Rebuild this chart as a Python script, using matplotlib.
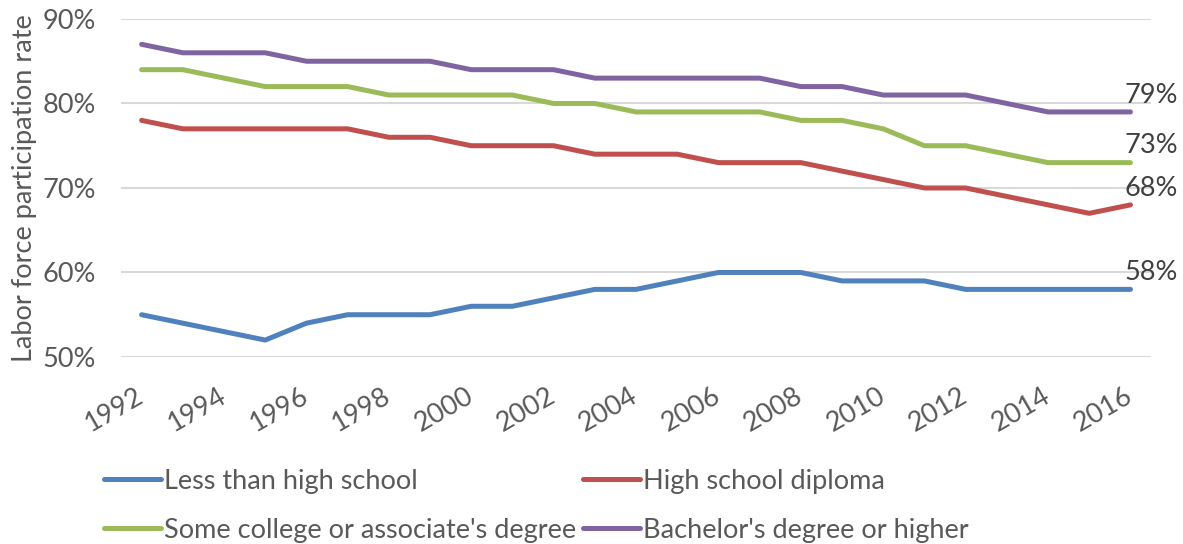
import numpy as np
import matplotlib
matplotlib.use('Agg')
import matplotlib.pyplot as plt
from matplotlib.ticker import PercentFormatter

# Data
years = list(range(1992, 2017))

less_than_hs = [55, 54, 53, 52, 54, 55, 55, 55, 56, 56, 57, 58, 58,
                59, 60, 60, 60, 59, 59, 59, 58, 58, 58, 58, 58]
hs_diploma = [78, 77, 77, 77, 77, 77, 76, 76, 75, 75, 75, 74, 74,
              74, 73, 73, 73, 72, 71, 70, 70, 69, 68, 67, 68]
some_college = [84, 84, 83, 82, 82, 82, 81, 81, 81, 81, 80, 80, 79,
                79, 79, 79, 78, 78, 77, 75, 75, 74, 73, 73, 73]
bachelors = [87, 86, 86, 86, 85, 85, 85, 85, 84, 84, 84, 83, 83,
             83, 83, 83, 82, 82, 81, 81, 81, 80, 79, 79, 79]

series = [
    ('Less than high school', less_than_hs, '#4f81bd'),
    ('High school diploma', hs_diploma, '#c0504d'),
    ("Some college or associate's degree", some_college, '#9bbb59'),
    ("Bachelor's degree or higher", bachelors, '#8064a2'),
]

plt.rcParams['font.family'] = ['Lato', 'DejaVu Sans']
text_col = '#595959'
fs = 19.5

fig = plt.figure(figsize=(11.83, 5.44), dpi=100)
ax = fig.add_axes([0.1023, 0.3438, 0.8707, 0.6213])

handles = []
for name, vals, col in series:
    h, = ax.plot(years, vals, color=col, lw=3.6, label=name,
                 solid_capstyle='round', solid_joinstyle='round')
    handles.append(h)
    ax.annotate(f'{vals[-1]}%', (years[-1], vals[-1]),
                xytext=(-4, 3), textcoords='offset points',
                ha='left', va='bottom', fontsize=fs, color='#404040')

ax.set_xlim(1991.5, 2016.5)
ax.set_ylim(50, 90)
ax.set_yticks(range(50, 91, 10))
ax.yaxis.set_major_formatter(PercentFormatter(decimals=0))
ax.set_xticks(years[::2])

ax.grid(axis='y', color='#d9d9d9', lw=1.5)
ax.set_axisbelow(True)
for s in ax.spines.values():
    s.set_visible(False)

ax.tick_params(axis='y', length=0, pad=18, labelsize=fs, labelcolor=text_col)
ax.tick_params(axis='x', length=0, pad=27, labelsize=fs, labelcolor=text_col)
for lbl in ax.get_xticklabels():
    lbl.set_rotation(30)
    lbl.set_ha('right')
    lbl.set_va('center')
    lbl.set_rotation_mode('anchor')

ax.set_ylabel('Labor force participation rate', fontsize=fs, color=text_col,
              labelpad=4)

# legend is filled row by row in the original, matplotlib fills by column
order = [0, 2, 1, 3]
fig.legend([handles[i] for i in order], [series[i][0] for i in order],
           loc='upper left', bbox_to_anchor=(0.088, 0.138), ncol=2,
           frameon=False, fontsize=fs, labelcolor=text_col,
           handlelength=2.1, handletextpad=0.12, columnspacing=0.25,
           labelspacing=0.88, borderaxespad=0, borderpad=0)

plt.savefig('out.png', dpi=100)
